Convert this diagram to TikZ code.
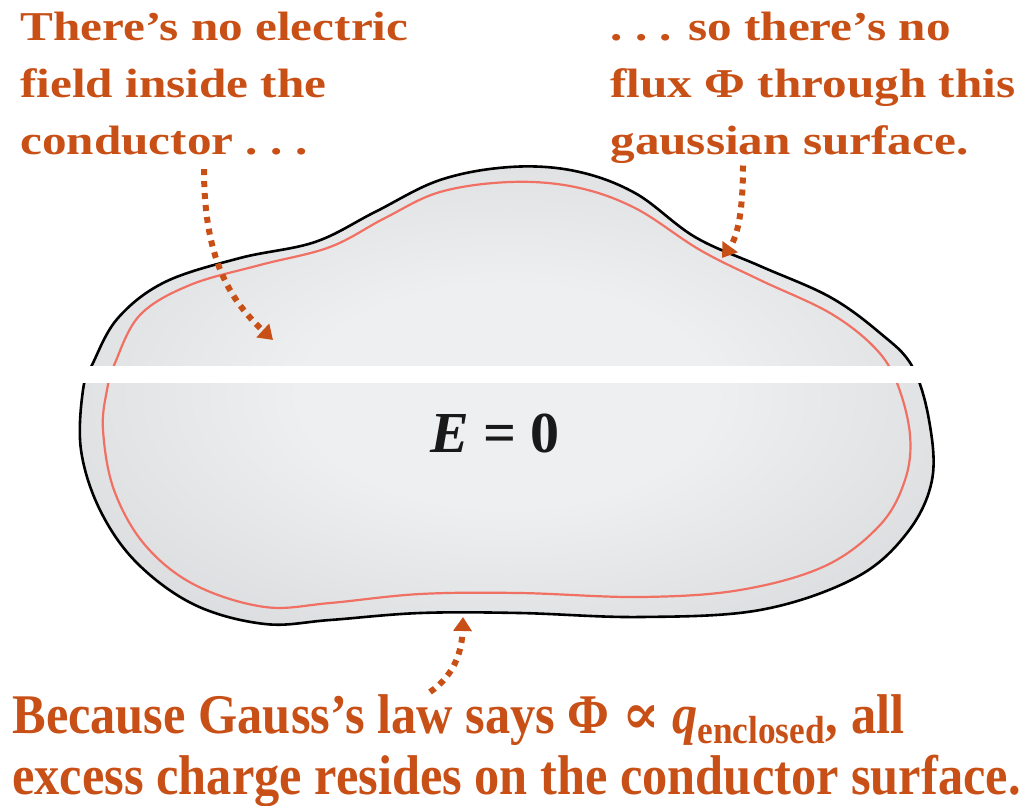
\documentclass[tikz,border=0pt]{standalone}
\usepackage{fontspec}
\setmainfont{Liberation Serif}
\newfontfamily\wideserif[FakeStretch=1.2]{Liberation Serif}
\newfontfamily\narrowserif[FakeStretch=0.9]{Liberation Serif}
\newfontfamily\symserif{DejaVu Serif}
\usetikzlibrary{arrows.meta}
\definecolor{notecolor}{RGB}{200,80,22}
\definecolor{shadein}{RGB}{238,239,240}
\definecolor{shadeout}{RGB}{198,200,204}
\definecolor{gaussred}{RGB}{240,112,100}
\pgfdeclareradialshading{condshade}{\pgfpoint{0bp}{0bp}}{color(0bp)=(shadein); color(12bp)=(shadein); color(50bp)=(shadeout); color(75bp)=(shadeout)}

\begin{document}
\begin{tikzpicture}[
    x=0.5pt, y=-0.5pt,
    note/.style={text=notecolor, align=left, inner sep=0pt, anchor=north west},
    topnote/.style={note, font=\wideserif\bfseries\fontsize{20.5}{28.3}\selectfont},
    lawnote/.style={note, font=\narrowserif\bfseries\fontsize{28}{30.5}\selectfont},
    conductor/.style={draw=black, line width=1.3pt, shade, shading=condshade},
    gauss/.style={draw=gaussred, line width=1.1pt},
    pointer/.style={draw=notecolor, line width=3pt, dash pattern=on 3pt off 3pt, -{Triangle[length=7pt,width=9pt]}},
]
\useasboundingbox (0,0) rectangle (1033,805);

% conductor and gaussian surface
\path[conductor] plot[smooth cycle, tension=0.6] coordinates {
  (93,363) (118,318) (165,282) (240,258) (315,242) (375,212) (440,180) (510,167)
  (575,171) (635,193) (695,237) (760,266) (830,297) (880,333) (912,366) (929,420)
  (932,480) (907,533) (855,578) (760,610) (640,617) (520,613) (420,613) (330,620)
  (265,624) (195,605) (137,563) (100,510) (81,450) (83,390)};
\draw[gauss] plot[smooth cycle, tension=0.6] coordinates {
  (115,363) (140,315) (190,285) (260,265) (330,247) (385,218) (440,192) (510,182)
  (575,187) (635,208) (700,250) (760,280) (830,313) (875,348) (897,383) (910,435)
  (905,480) (880,525) (825,566) (740,590) (640,597) (520,593) (420,594) (330,603)
  (265,607) (195,585) (145,545) (114,490) (103,430) (107,390)};
\fill[white] (0,366) rectangle (1033,383);

\node[font=\bfseries\fontsize{29}{30}\selectfont, text=black!90] (efield) at (495,433) {\textit{E} = 0};

% notes
\node[topnote] (nofield) at (20,12) {There’s no electric\\field inside the\\conductor .~.~.};
\node[topnote] (noflux) at (610,12) {.~.~. so there’s no\\flux Φ through this\\gaussian surface.};
\node[lawnote] (gausslaw) at (12,694) {Because Gauss’s law says Φ {\symserif\bfseries ∝} \textit{q}\textsubscript{enclosed}, all\\excess charge resides on the conductor surface.};

\coordinate (fieldtip) at (273,340);
\coordinate (fluxtip) at (722,258);
\coordinate (chargetip) at (463,617);

\draw[pointer] ([xshift=92pt,yshift=-7pt]nofield.south west) .. controls +(0,-45pt) and (230,300) .. (fieldtip);
\draw[pointer] ([xshift=66.5pt,yshift=-1pt]noflux.south west) .. controls +(0,-28pt) and (735,240) .. (fluxtip);
\draw[pointer] ([xshift=209pt,yshift=1pt]gausslaw.north west) .. controls (455,675) and (462,650) .. (chargetip);
\end{tikzpicture}
\end{document}
